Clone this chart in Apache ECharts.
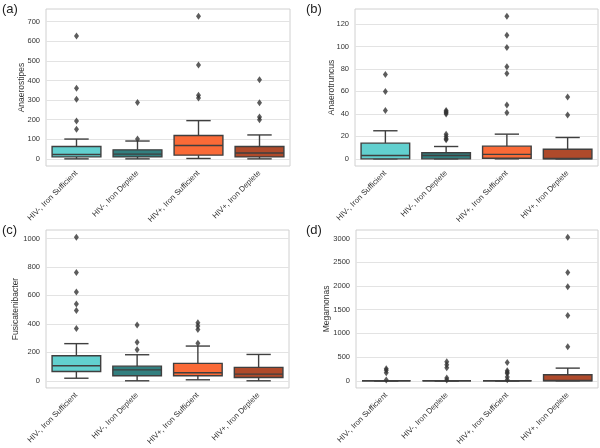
<!DOCTYPE html>
<html><head><meta charset="utf-8">
<script src="https://cdn.jsdelivr.net/npm/echarts@6/dist/echarts.min.js"></script>
<style>html,body{margin:0;padding:0;background:#fff}#c{width:600px;height:448px}</style>
</head><body><div id="c"></div>
<script>
const categories = ['HIV-, Iron Sufficient','HIV-, Iron Deplete','HIV+, Iron Sufficient','HIV+, Iron Deplete'];
const panelLabels = ['(a)','(b)','(c)','(d)'];
const genusNames = ['Anaerostipes','Anaerotruncus','Fusicatenibacter','Megamonas'];
// boxes: [min, q1, median, q3, max] per category
const anaerostipesBoxes = [[0,10,22,63,101],[0,10,24,46,91],[2,19,68,119,195],[0,10,30,63,122]];
const anaerostipesOutliers = [[627,360,304,193,151],[288,101],[728,479,325,310],[404,286,213,200]];
const anaerotruncusBoxes = [[0,0,3,14,25],[0,0,3,5.5,11],[0,0.5,4,11.3,22],[0,0,0.3,8.6,19]];
const anaerotruncusOutliers = [[75,60,43],[43,42,41,40,22,20,18,17],[127,110,99,82,76,48,41],[55,39]];
const fusicatenibacterBoxes = [[18,65,106,176,261],[0,35,77,103,183],[7,35,56,122,244],[0,23,47,94,185]];
const fusicatenibacterOutliers = [[1009,761,624,539,493,368],[392,270,218],[408,385,361,263],[]];
const megamonasBoxes = [[0,0,0,0,0],[0,0,0,0,0],[0,0,0,0,0],[0,0,5,127,267]];
const megamonasOutliers = [[253,220,169,15],[400,337,274,57,15],[387,210,180,156,78,21],[3027,2284,1980,1378,716]];
const yTicksA = [0,100,200,300,400,500,600,700];
const yTicksB = [0,20,40,60,80,100,120];
const yTicksC = [0,200,400,600,800,1000];
const yTicksD = [0,500,1000,1500,2000,2500,3000];

const boxColors = ['#62d0cf','#327f7f','#fa6a37','#af4a2b'];
const lineColor = '#3f3f3f';
const FONT = 'Liberation Sans, Arial, sans-serif';

const panels = [
  {boxes: anaerostipesBoxes, outliers: anaerostipesOutliers, ticks: yTicksA, grid:{left:46, top:9, width:244, height:157}, nameGap:20, label:[2,3]},
  {boxes: anaerotruncusBoxes, outliers: anaerotruncusOutliers, ticks: yTicksB, grid:{left:355, top:9, width:243, height:157}, nameGap:19, label:[306,3]},
  {boxes: fusicatenibacterBoxes, outliers: fusicatenibacterOutliers, ticks: yTicksC, grid:{left:46, top:230, width:243, height:158}, nameGap:26, label:[2,224]},
  {boxes: megamonasBoxes, outliers: megamonasOutliers, ticks: yTicksD, grid:{left:356, top:230, width:242, height:158}, nameGap:25, label:[306,224]}
];

const grid=[], xAxis=[], yAxis=[], series=[], graphic=[];
panels.forEach((p,i)=>{
  let dmax = 0;
  p.boxes.forEach(b=>{dmax=Math.max(dmax,b[4]);});
  p.outliers.forEach(o=>o.forEach(v=>{dmax=Math.max(dmax,v);}));
  const pad = dmax*0.05;
  grid.push(Object.assign({show:true, borderColor:'#d0d0d0', borderWidth:1, backgroundColor:'#fff'}, p.grid));
  xAxis.push({type:'category', gridIndex:i, data:categories, boundaryGap:true,
    axisLine:{show:false}, axisTick:{show:false}, splitLine:{show:false},
    axisLabel:{rotate:45, interval:0, fontSize:7.8, color:'#333', fontFamily:FONT, margin:6}});
  yAxis.push({type:'value', gridIndex:i, min:-pad, max:dmax+pad, name:genusNames[i], nameLocation:'middle',
    nameGap:p.nameGap, nameMoveOverlap:false, nameTextStyle:{fontSize:8.5, color:'#333', fontFamily:FONT},
    axisLine:{show:false},
    axisTick:{show:false, customValues:p.ticks},
    axisLabel:{customValues:p.ticks, fontSize:7.5, color:'#333', fontFamily:FONT, margin:6, formatter:v=>String(v)},
    splitLine:{show:true, lineStyle:{color:'#e3e3e3', width:1}}});
  series.push({type:'custom', xAxisIndex:i, yAxisIndex:i,
    data:p.boxes.map((b,k)=>[k].concat(b)),
    encode:{x:0, y:[1,2,3,4,5]},
    renderItem:function(params, api){
      const k = api.value(0);
      const w = api.size([1,0])[0]*0.8;
      const c = api.coord([k, api.value(3)]);
      const x = c[0];
      const yMin = api.coord([k, api.value(1)])[1];
      const yQ1 = api.coord([k, api.value(2)])[1];
      const yMed = c[1];
      const yQ3 = api.coord([k, api.value(4)])[1];
      const yMax = api.coord([k, api.value(5)])[1];
      const ls = {stroke:lineColor, lineWidth:1.4};
      return {type:'group', children:[
        {type:'line', shape:{x1:x,y1:yMin,x2:x,y2:yQ1}, style:ls},
        {type:'line', shape:{x1:x,y1:yQ3,x2:x,y2:yMax}, style:ls},
        {type:'line', shape:{x1:x-w/4,y1:yMin,x2:x+w/4,y2:yMin}, style:ls},
        {type:'line', shape:{x1:x-w/4,y1:yMax,x2:x+w/4,y2:yMax}, style:ls},
        {type:'rect', shape:{x:x-w/2, y:yQ3, width:w, height:Math.max(yQ1-yQ3,0)}, style:{fill:boxColors[k], stroke:lineColor, lineWidth:1.4}},
        {type:'line', shape:{x1:x-w/2,y1:yMed,x2:x+w/2,y2:yMed}, style:ls}
      ]};
    }, z:2});
  const pts=[];
  p.outliers.forEach((o,k)=>o.forEach(v=>pts.push([k,v])));
  series.push({type:'scatter', xAxisIndex:i, yAxisIndex:i, data:pts, symbol:'diamond', symbolSize:[5,7],
    itemStyle:{color:'#333'}, z:3, silent:true});
  graphic.push({type:'text', left:p.label[0], top:p.label[1], style:{text:panelLabels[i], fontSize:13, fill:'#222', fontFamily:FONT}});
});

const chart = echarts.init(document.getElementById('c'), null, {renderer:'canvas'});
chart.setOption({animation:false, backgroundColor:'#fff', grid, xAxis, yAxis, series, graphic});
</script></body></html>
